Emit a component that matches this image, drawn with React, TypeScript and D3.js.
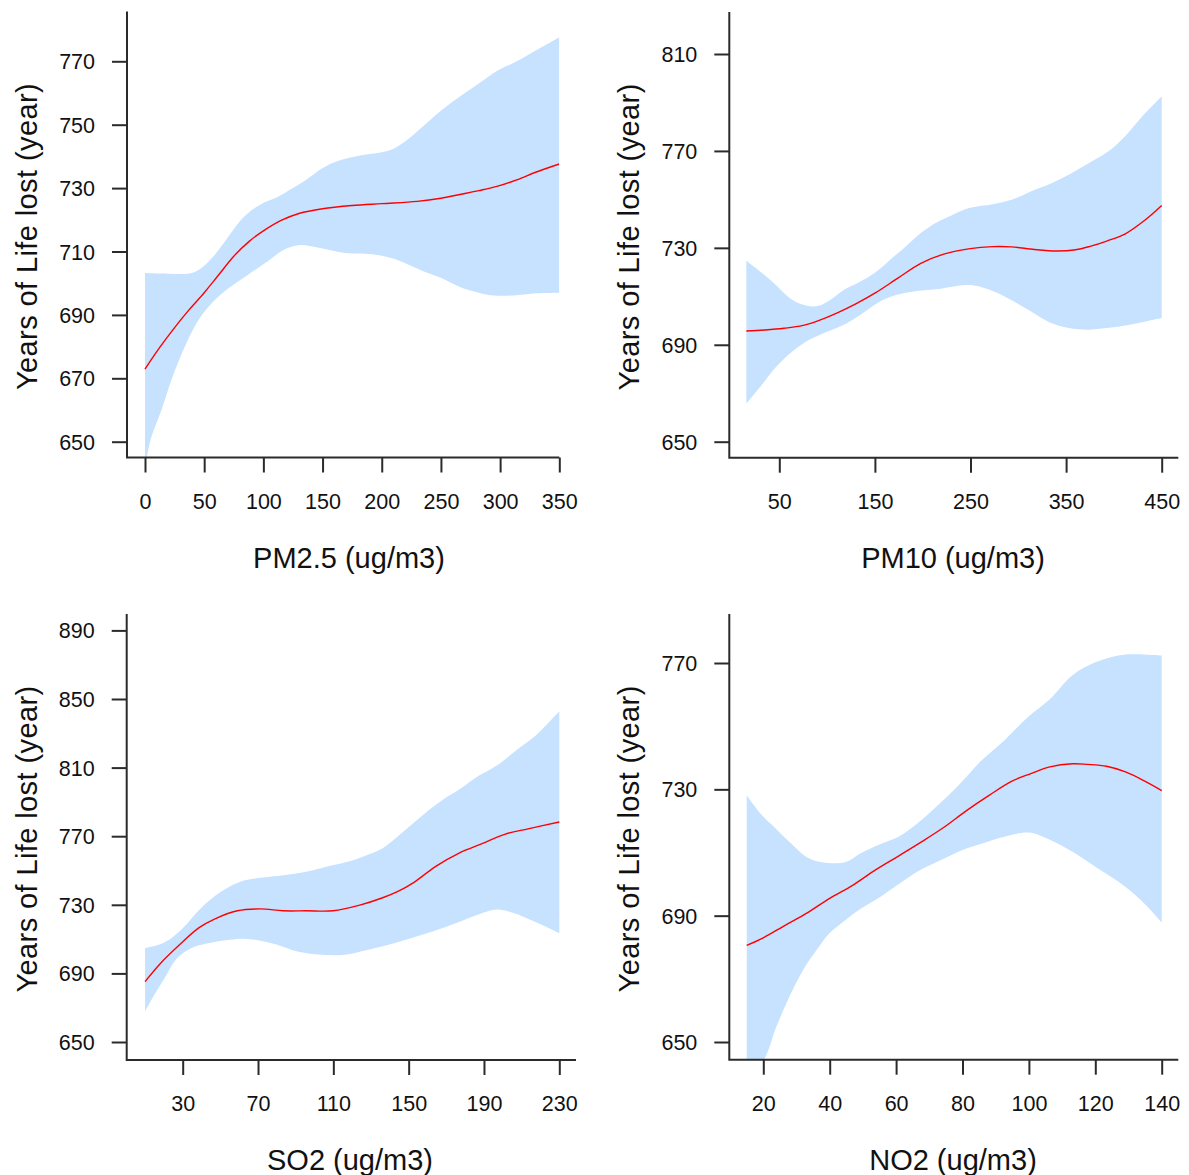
import React, { useEffect, useRef } from "react";
import * as d3 from "d3";

// ---- data (x, years of life lost) ----
const pm25Fit = [[0,672.9],[12,679.5],[25,686],[37,691.5],[50,697],[62,702.5],[75,708.5],[88,713.2],[100,716.5],[115,719.8],[130,722],[150,723.5],[175,724.5],[200,725.1],[230,725.8],[250,726.8],[266,728],[282,729.2],[298,730.6],[314,732.6],[330,735],[350,737.6]];
const pm25Upper = [[0,703.2],[20,703],[39.5,703.2],[49,705.2],[59,709],[70,714.5],[80,719.5],[90,723],[101,725.5],[112,727.2],[123.5,729.7],[136.5,732.7],[149.4,736.2],[162.4,738.5],[181.7,740.3],[201,741.4],[210.9,742.6],[220.6,744.9],[233.5,749],[249.7,754.3],[266,758.9],[282,763],[298,767.1],[314,770],[330.5,773.5],[350,777.6]];
const pm25Lower = [[0,642],[5,651],[13.6,659.7],[23,670.2],[36,681.9],[46,688.9],[59,694.7],[72,698.8],[88,702.9],[104,707],[117,710.5],[130,712],[149,711],[169,709.5],[195,709],[211,707.6],[233.5,704],[250,701.7],[266,698.8],[282,697],[295,696.1],[314,696.2],[330,696.8],[350,697]];

const pm10Fit = [[15.5,695.7],[35,696.1],[55,696.8],[75,698],[91,700],[110.7,703.2],[130.5,707],[150.4,711.4],[174,717.5],[198,723.6],[222,727.4],[249.6,729.7],[273.4,730.5],[293,730.4],[317,729.3],[340,728.7],[360,729.2],[375,730.6],[392.5,732.8],[412,735.8],[432,741.3],[450,747.5]];
const pm10Upper = [[15.5,724.7],[31.4,719.8],[47,714.5],[63,708.7],[79,706.1],[91,706.1],[102.8,708.4],[118.7,712.9],[134.5,716],[150.4,719.8],[166,725.1],[182,730.5],[198,736.1],[214,740.4],[230,743.4],[249.6,746.5],[273.4,748],[293,749.8],[313,753.3],[333,756.4],[352.8,760.2],[372.6,764.7],[392.5,769.3],[412,776.2],[432,785.3],[450,792.5]];
const pm10Lower = [[15.5,665.7],[31.4,673.3],[47,681],[63,687],[79,691.6],[95,694.6],[114.7,697.7],[134.5,702.3],[154,707.6],[174,710.7],[194,712.2],[214,712.9],[233.7,714.2],[253.6,714.5],[273.4,712.2],[293,708.4],[313,703.8],[333,699.2],[352.8,696.9],[372.6,696.2],[392.5,696.9],[412,698],[432,699.5],[450,701]];

const so2Fit = [[10,685.2],[18.4,696.1],[28.6,707],[38.7,716.7],[46.9,721.7],[59,726.5],[71.2,727.6],[83.4,726.5],[95.6,726.5],[109.8,726.5],[124,729.8],[136.2,734.1],[144.3,737.8],[152.4,742.8],[164.6,752.6],[176.8,760.2],[189,765.7],[201,771.1],[213.4,774.3],[230,778.3]];
const so2Upper = [[10,704.8],[18.4,707.2],[24.5,711],[30.6,717],[38.7,727],[46.9,735],[55,740.7],[63,744.3],[71.2,745.7],[83.4,747.2],[95.6,749.3],[107.8,752.6],[120,755.9],[128,759.1],[136.2,763],[144.3,770],[152.4,777.6],[160.6,785.2],[168.7,791.7],[176.8,797.2],[185,803.7],[197,811.3],[207,820],[217.5,828.7],[230,842.8]];
const so2Lower = [[10,667.8],[14.4,676.5],[20.5,687.4],[26.5,698.3],[34.7,704.8],[42.8,707.4],[55,709.6],[63,710.2],[71.2,709.1],[79.3,707],[91.5,702.6],[103.7,700.9],[115.9,700.9],[128,703.7],[140.3,707],[152.4,710.9],[164.6,715.2],[176.8,720],[187,724.3],[197,727.2],[205.2,725.4],[217.4,720],[230,713.5]];

const no2Fit = [[15,680.6],[20,683],[26.3,686.8],[33.1,690.8],[40,695.5],[46.9,699.6],[53.7,704.4],[60.6,708.8],[67.4,713.2],[74.3,717.9],[81.1,723.2],[88,728.1],[94.9,732.6],[100.6,735],[106.3,737.1],[113.1,738.1],[117.7,737.9],[123.4,737.3],[129.1,735.5],[134.9,732.6],[140,729.6]];
const no2Upper = [[15,728.1],[19.4,722],[24,717.3],[28.6,712.6],[33.1,708.5],[37.7,706.9],[44.6,706.9],[49.1,709.6],[53.7,712],[60.6,714.9],[66.3,719.1],[72,724.4],[78.9,731.4],[85.7,739.1],[92.6,745.5],[99.4,752.6],[106.3,758.5],[113.1,766.1],[120,770.2],[126.9,772.4],[131.4,772.8],[140,772.4]];
const no2Lower = [[15,637],[17,640],[20.5,645],[24,655],[28.6,666],[33,674.5],[37,680.5],[40,684.5],[44.6,688.5],[49.1,692],[56,696.5],[62.9,701.5],[67.4,704.5],[74.3,708],[80,710.8],[85.7,712.8],[92.6,715],[100,716.3],[106.3,714],[113.1,710.2],[120,705.5],[126.9,700.8],[133.7,695],[140,687.9]];

// tick labels
const pm25XTicks = [0, 50, 100, 150, 200, 250, 300, 350];
const pm25YTicks = [650, 670, 690, 710, 730, 750, 770];
const pm10XTicks = [50, 150, 250, 350, 450];
const pm10YTicks = [650, 690, 730, 770, 810];
const so2XTicks = [30, 70, 110, 150, 190, 230];
const so2YTicks = [650, 690, 730, 770, 810, 850, 890];
const no2XTicks = [20, 40, 60, 80, 100, 120, 140];
const no2YTicks = [650, 690, 730, 770];

const yTitle = "Years of Life lost (year)";
const FONT = "'Liberation Sans', Arial, sans-serif";

// panel layout (pixel frame of each plot region)
const panels = [
  { id: "pm25", fit: pm25Fit, upper: pm25Upper, lower: pm25Lower, xTicks: pm25XTicks, yTicks: pm25YTicks,
    title: "PM2.5 (ug/m3)", xd: [0, 350], xr: [145, 559.3], yd: [650, 770], yr: [441.7, 61.3],
    left: 127, right: 559.3, top: 11.5, bottom: 457.5, center: 349 },
  { id: "pm10", fit: pm10Fit, upper: pm10Upper, lower: pm10Lower, xTicks: pm10XTicks, yTicks: pm10YTicks,
    title: "PM10 (ug/m3)", xd: [50, 450], xr: [779.3, 1161.7], yd: [650, 810], yr: [441.7, 54],
    left: 729.3, right: 1178.3, top: 12, bottom: 457.7, center: 953 },
  { id: "so2", fit: so2Fit, upper: so2Upper, lower: so2Lower, xTicks: so2XTicks, yTicks: so2YTicks,
    title: "SO2 (ug/m3)", xd: [30, 230], xr: [182.7, 559.3], yd: [650, 890], yr: [1042, 630.4],
    left: 126.7, right: 576, top: 614, bottom: 1060, center: 350 },
  { id: "no2", fit: no2Fit, upper: no2Upper, lower: no2Lower, xTicks: no2XTicks, yTicks: no2YTicks,
    title: "NO2 (ug/m3)", xd: [20, 140], xr: [763.3, 1161.7], yd: [650, 770], yr: [1042, 663],
    left: 729.3, right: 1178.3, top: 614, bottom: 1059.7, center: 953 },
];

const App = () => {
  const ref = useRef<SVGSVGElement>(null);

  useEffect(() => {
    const svg = d3.select(ref.current);
    svg.selectAll("*").remove();

    panels.forEach((p) => {
      const x = d3.scaleLinear().domain(p.xd).range(p.xr);
      const y = d3.scaleLinear().domain(p.yd).range(p.yr);
      const g = svg.append("g");

      // clip to plot region
      svg.append("clipPath").attr("id", `clip-${p.id}`)
        .append("rect")
        .attr("x", p.left).attr("y", p.top)
        .attr("width", p.right - p.left).attr("height", p.bottom - p.top);

      const line = d3.line<number[]>()
        .x((d) => x(d[0]))
        .y((d) => y(d[1]))
        .curve(d3.curveCatmullRom.alpha(0.5));

      // confidence band: upper edge then lower edge backwards
      const up = line(p.upper) as string;
      const lo = line(p.lower.slice().reverse()) as string;
      g.append("path")
        .attr("d", up + "L" + lo.slice(1) + "Z")
        .attr("fill", "#c6e2ff")
        .attr("clip-path", `url(#clip-${p.id})`);

      // fitted curve
      g.append("path")
        .attr("d", line(p.fit))
        .attr("fill", "none")
        .attr("stroke", "#ff0000")
        .attr("stroke-width", 1.4)
        .attr("clip-path", `url(#clip-${p.id})`);

      // L-shaped frame
      g.append("path")
        .attr("d", `M${p.left},${p.top}V${p.bottom}H${p.right}`)
        .attr("fill", "none")
        .attr("stroke", "#2b2b2b")
        .attr("stroke-width", 2);

      // x axis
      const gx = g.append("g")
        .attr("transform", `translate(0,${p.bottom})`)
        .call(d3.axisBottom(x).tickValues(p.xTicks).tickSize(15).tickFormat(d3.format("d")));
      gx.select(".domain").remove();
      gx.selectAll("line").attr("stroke", "#2b2b2b").attr("stroke-width", 2);
      gx.selectAll("text")
        .attr("y", 43.5).attr("dy", "0.35em")
        .attr("fill", "#111")
        .style("font-size", "21.5px").style("font-family", FONT);

      // y axis
      const gy = g.append("g")
        .attr("transform", `translate(${p.left},0)`)
        .call(d3.axisLeft(y).tickValues(p.yTicks).tickSize(15).tickFormat(d3.format("d")));
      gy.select(".domain").remove();
      gy.selectAll("line").attr("stroke", "#2b2b2b").attr("stroke-width", 2);
      gy.selectAll("text")
        .attr("x", -32).attr("dy", "0.35em")
        .attr("fill", "#111")
        .style("font-size", "21.5px").style("font-family", FONT);

      // axis titles
      g.append("text")
        .attr("x", p.center)
        .attr("y", p.bottom + 100)
        .attr("dy", "0.35em")
        .attr("text-anchor", "middle")
        .attr("fill", "#111")
        .style("font-size", "29px").style("font-family", FONT)
        .text(p.title);

      const cy = (p.top + p.bottom) / 2 + 2;
      g.append("text")
        .attr("transform", `translate(${p.left - 100},${cy}) rotate(-90)`)
        .attr("dy", "0.35em")
        .attr("text-anchor", "middle")
        .attr("fill", "#111")
        .style("font-size", "29px").style("font-family", FONT)
        .style("letter-spacing", "0.4px")
        .text(yTitle);
    });
  }, []);

  return (
    <svg
      ref={ref}
      width={1189}
      height={1175}
      style={{ position: "absolute", left: 0, top: 0, background: "#fff" }}
    />
  );
};

export default App;
